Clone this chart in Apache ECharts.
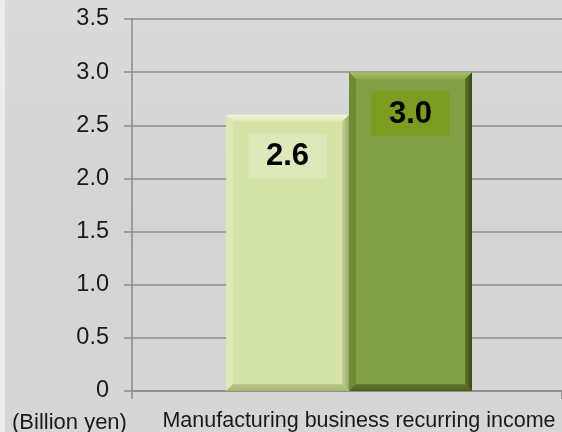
<!DOCTYPE html>
<html>
<head>
<meta charset="utf-8">
<script src="https://cdn.jsdelivr.net/npm/echarts@6/dist/echarts.min.js"></script>
<style>html,body{margin:0;padding:0;background:#d6d6d6}#c{width:562px;height:432px}</style>
</head>
<body>
<div id="c"></div>
<script>
const categories = ['Manufacturing business recurring income'];
const seriesNames = ['Result', 'Forecast'];
const seriesValues = [[2.6], [3.0]];
const unitLabel = '(Billion yen)';
const yMin = 0, yMax = 3.5, yInterval = 0.5;

const palettes = [
  {face:'#d3e4a6', top:['#f2f8d6','#dbe9b2'], left:'#dde9b7', right:['#c3d38f','#98a86a'], bottom:['#b9c98a','#a4b474'], box:'#dde9ba'},
  {face:'#84a046', top:['#a7c26a','#8ca94c'], left:'#6f8a33', right:['#5e7825','#38481a'], bottom:['#5f7a2a','#4a5f1e'], box:'#7c9c22'}
];

function lg(x0,y0,x1,y1,c0,c1){return new echarts.graphic.LinearGradient(x0,y0,x1,y1,[{offset:0,color:c0},{offset:1,color:c1}]);}

function makeRender(si){
  return function(params, api){
    const cat = api.value(0), val = api.value(1);
    const p0 = api.coord([cat, 0]);
    const p1 = api.coord([cat, val]);
    const band = api.size([1, 0])[0];
    const bw = band * 0.286;
    const cx = p0[0] + 2 + (si === 0 ? -0.5 : 0.5) * bw;
    const x0 = cx - bw/2, x1 = cx + bw/2, y0 = p1[1], y1 = p0[1];
    const b = 7;
    const pal = palettes[si];
    const children = [
      {type:'rect', shape:{x:x0, y:y0, width:bw, height:y1-y0}, style:{fill:pal.face}},
      {type:'polygon', shape:{points:[[x0,y0],[x1,y0],[x1-b,y0+b],[x0+b,y0+b]]}, style:{fill:lg(0,0,0,1,pal.top[0],pal.top[1])}},
      {type:'polygon', shape:{points:[[x0,y0],[x0+b,y0+b],[x0+b,y1-b],[x0,y1]]}, style:{fill:pal.left}},
      {type:'polygon', shape:{points:[[x1,y0],[x1,y1],[x1-b,y1-b],[x1-b,y0+b]]}, style:{fill:lg(0,0,1,0,pal.right[0],pal.right[1])}},
      {type:'polygon', shape:{points:[[x0,y1],[x1,y1],[x1-b,y1-b],[x0+b,y1-b]]}, style:{fill:lg(0,0,0,1,pal.bottom[0],pal.bottom[1])}},
      {type:'rect', shape:{x:cx-39, y:y0+19, width:78, height:45}, style:{fill:pal.box}},
      {type:'text', x:cx, y:y0+19+23, style:{text:val.toFixed(1), font:'bold 31px "Liberation Sans", Arial, sans-serif', fill:'#000', align:'center', verticalAlign:'middle'}}
    ];
    return {type:'group', children};
  };
}

const chart = echarts.init(document.getElementById('c'), null, {renderer:'canvas'});
chart.setOption({
  animation:false,
  backgroundColor: new echarts.graphic.LinearGradient(0,0,0,1,[{offset:0,color:'#dadada'},{offset:0.5,color:'#d4d4d4'},{offset:1,color:'#d6d6d6'}]),
  grid:{left:132, right:0, top:19, bottom:40, containLabel:false},
  graphic:[
    {type:'rect', left:0, top:0, shape:{width:5, height:432}, style:{fill:'#ececec'}, z:-1},
    {type:'text', left:12, top:412, style:{text:unitLabel, font:'22px "Liberation Sans", Arial, sans-serif', fill:'#1a1a1a'}}
  ],
  xAxis:{
    type:'category', data:categories,
    axisLine:{lineStyle:{color:'#8a8a8a', width:1.5}},
    axisTick:{show:true, length:8, lineStyle:{color:'#8a8a8a', width:1.5}},
    axisLabel:{color:'#1a1a1a', fontSize:21.5, fontFamily:'"Liberation Sans", Arial, sans-serif', margin:19, padding:[0,0,0,24]}
  },
  yAxis:{
    type:'value', min:yMin, max:yMax, interval:yInterval,
    axisLine:{show:true, lineStyle:{color:'#8a8a8a', width:1.5}},
    axisTick:{show:true, length:8, lineStyle:{color:'#8a8a8a', width:1.5}},
    splitLine:{lineStyle:{color:'#8e8e8e', width:1.5}},
    axisLabel:{color:'#1a1a1a', fontSize:23.5, fontFamily:'"Liberation Sans", Arial, sans-serif', margin:23,
      formatter:function(v){return v === 0 ? '0' : v.toFixed(1);}}
  },
  series: seriesNames.map(function(name, si){
    return {type:'custom', name:name, renderItem:makeRender(si), encode:{x:0, y:1},
      data: categories.map(function(c, ci){return [ci, seriesValues[si][ci]];})};
  })
});
</script>
</body>
</html>
